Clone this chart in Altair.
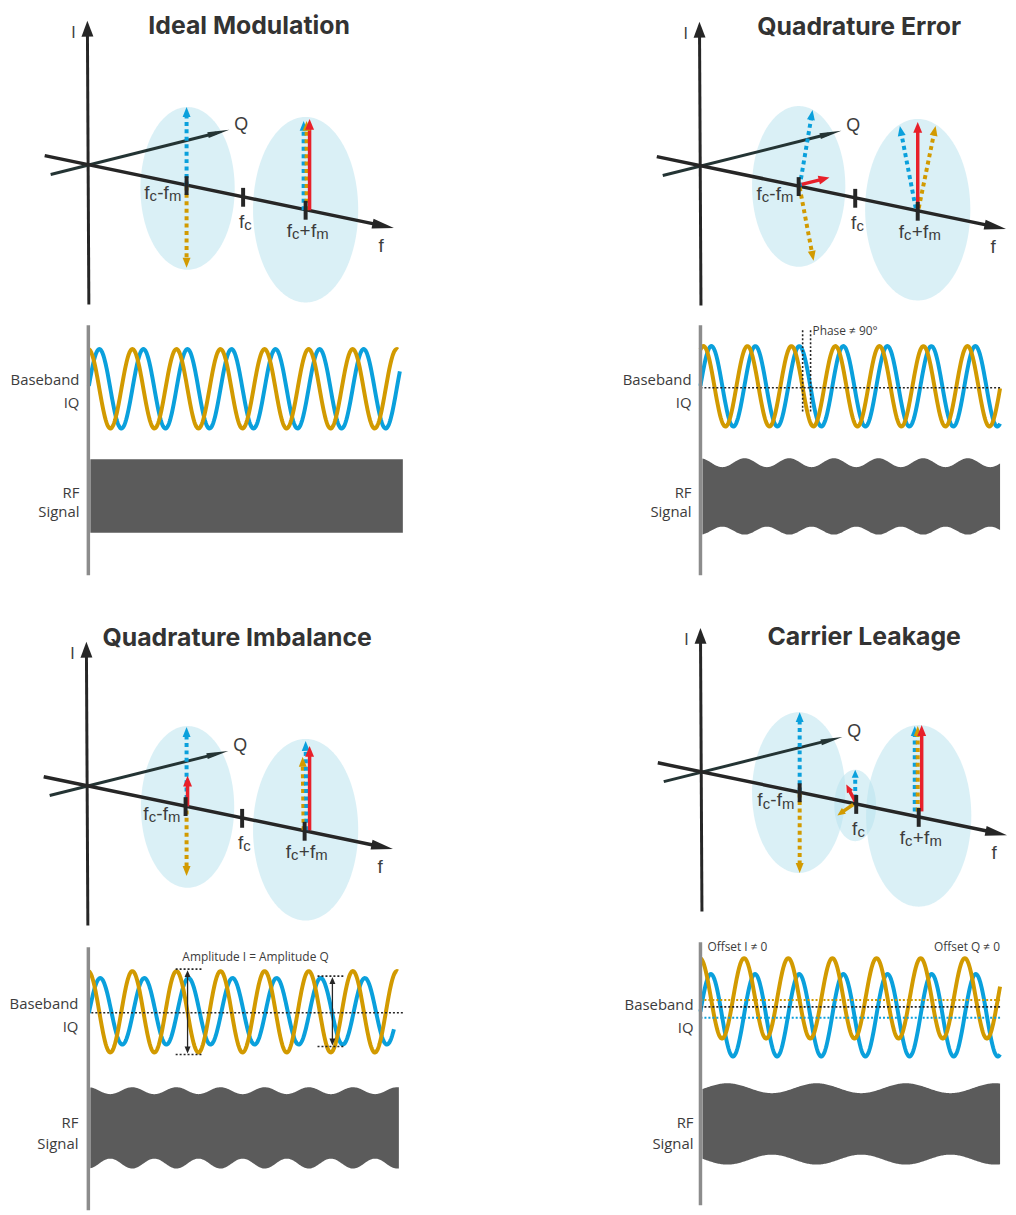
import math
import numpy as np
import pandas as pd
import altair as alt

# ------------------------------------------------------------------ data
PAL_NAMES = ["blue", "gold", "red", "ink", "slate", "bar", "rf", "ell", "text", "title"]
PAL_COLORS = ["#0aa0dc", "#d29a00", "#e8202a", "#262626", "#243434",
              "#8c8c8c", "#5b5b5b", "#b5e1ed", "#3c3c3c", "#333333"]

TITLES = ["Ideal Modulation", "Quadrature Error", "Quadrature Imbalance", "Carrier Leakage"]
TITLE_X = [251, 866, 239, 871]
TITLE_Y = [29, 30, 646.5, 645]

# diagram origins (crossing of the I, Q and f axes)
ORIGIN_X = [88, 705, 87, 706]
ORIGIN_Y = [161, 162, 787, 773]

# axis geometry relative to the origin
I_AXIS = [(1.5, 141), (0, -145)]
Q_AXIS = [(-37, 10), (143, -35)]
F_AXIS = [(-43, -9), (309, 64)]
TICK_DX = [100, 157, 220]
AXIS_LETTERS = ["I", "Q", "f"]
AXIS_LETTER_DX = [-14, 155, 296]
AXIS_LETTER_DY = [-128, -35, 88]

# tick labels f_c - f_m, f_c, f_c + f_m  (pieces relative to the tick)
TICK_LABEL_TEXT = [["f", "c", "-", "f", "m"], ["f", "c"], ["f", "c", "+", "f", "m"]]
TICK_LABEL_ROLE = [["main", "sub", "main", "main", "sub"], ["main", "sub"],
                   ["main", "sub", "main", "main", "sub"]]
TICK_LABEL_DX = [[-40, -33.5, -26.5, -20.5, -11.5], [-1.5, 5], [-16.5, -10, -0.5, 8, 17]]
TICK_LABEL_DY = [[14, 16.5, 14, 14, 16.5], [31, 33.5], [27, 29.5, 27, 27, 29.5]]

# light blue ellipses
ELL_CX = [189, 308, 805, 925, 189, 308, 805, 862, 926]
ELL_CY = [185, 206.5, 183, 206.5, 808.5, 831.5, 794, 807, 817.5]
ELL_RX = [47.5, 53, 47, 53, 47, 53, 47, 21, 53]
ELL_RY = [82, 93.5, 81, 91.5, 81.5, 91.5, 81, 36, 91.5]

# phasor arrows: start, tip, series, dashed?
ARR_X1 = [188, 188, 306, 309, 312,
          806, 806, 808, 923, 926, 925,
          188, 188, 189, 306, 309, 312,
          806, 806, 862, 862, 860, 922, 925, 929]
ARR_Y1 = [182, 183, 207, 207, 207,
          183, 184, 181, 205, 205, 205,
          808, 812, 808, 832, 832, 832,
          793, 795, 800, 803, 806, 813, 813, 813]
ARR_X2 = [188, 188, 306, 309, 312,
          819, 820, 836, 907, 943, 925,
          188, 188, 189, 305, 308, 312,
          806, 806, 862, 853, 844, 922, 925, 929]
ARR_Y2 = [103, 265, 117, 117, 115,
          106, 258, 174, 122, 122, 118,
          728, 878, 777, 758, 742, 747,
          713, 875, 771, 786, 817, 727, 727, 726]
ARR_SERIES = ["blue", "gold", "blue", "gold", "red",
              "blue", "gold", "red", "blue", "gold", "red",
              "blue", "gold", "red", "gold", "blue", "red",
              "blue", "gold", "blue", "red", "gold", "blue", "gold", "red"]
ARR_DASHED = [1, 1, 1, 1, 0,
              1, 1, 0, 1, 1, 0,
              1, 1, 0, 1, 1, 0,
              1, 1, 1, 0, 0, 1, 1, 0]
ARR_SMALL = [0] * 19 + [1, 1, 1] + [0] * 3

# baseband I/Q waves
WAVE_SERIES = ["blue", "gold", "blue", "gold", "blue", "gold", "blue", "gold"]
WAVE_X0 = [89.5, 89.5, 706, 706, 89.5, 89.5, 706, 706]
WAVE_X1 = [403, 401, 1008, 1008, 397, 401, 1008, 1008]
WAVE_MID = [387, 387, 384.5, 384.5, 1014.5, 1015, 1018.5, 1001.5]
WAVE_AMP = [40, 40, 40.5, 40.5, 33.5, 41, 41.5, 40.5]
WAVE_PERIOD = [44.4, 44.4, 44.35, 44.35, 44.45, 44.45, 44.5, 44.5]
WAVE_PEAK = [100.1, 89, 717, 709, 101, 88.9, 716.5, 705.5]

# RF signal bands
RF_X0 = [91, 708, 91, 708]
RF_X1 = [406, 1008, 402, 1008]
RF_TOP = [458, 461.5, 1094.5, 1092]
RF_TOP_AMP = [0, 4.5, 3.5, 5]
RF_BOT = [532, 530, 1168, 1164]
RF_BOT_AMP = [0, 4, 5, 5]
RF_PERIOD = [45, 45, 44.5, 90]
RF_PINCH = [0, 728, 155.5, 778]

# grey time axes
BAR_X = [89, 706, 89, 706]
BAR_Y0 = [323, 323, 950, 945]
BAR_Y1 = [575, 575, 1215, 1210]

# side labels
SIDE_TEXT = ["Baseband", "IQ", "RF", "Signal"] * 4
SIDE_X = [80] * 4 + [697] * 4 + [79] * 4 + [699] * 4
SIDE_Y = [382.7, 406, 497, 516.7, 382.7, 406, 497, 516.7,
          1011.7, 1035, 1131.7, 1153, 1012.7, 1036, 1132, 1153]

# dotted guide lines
GUIDE_SERIES = ["ink"] * 9 + ["gold", "blue"]
GUIDE_X0 = [706, 809, 817, 92, 177, 177, 320, 320, 706, 706, 706]
GUIDE_Y0 = [386, 328, 328, 1016, 972, 1058, 979, 1050, 1010, 1003, 1021]
GUIDE_X1 = [1008, 809, 817, 407, 205, 205, 348, 348, 1008, 1008, 1008]
GUIDE_Y1 = [386, 412, 412, 1016, 972, 1058, 979, 1050, 1010, 1003, 1021]

# amplitude dimension arrows
DIM_X = [189, 335]
DIM_Y0 = [973, 980]
DIM_Y1 = [1057, 1049]

# annotations
NOTE_TEXT = ["Phase \u2260 90\u00b0", "Amplitude I = Amplitude Q", "Offset I \u2260 0", "Offset Q \u2260 0"]
NOTE_X = [819, 257.5, 713, 1008]
NOTE_Y = [333, 963.5, 954, 954]
NOTE_ALIGN = ["left", "center", "left", "right"]

# ------------------------------------------------------------------ build tables
rules_solid, rules_dash, rules_dot = [], [], []
heads = []


def head_path(L, W):
    w = W / L
    return f"M0,-1L{w:.3f},1L{-w:.3f},1Z"


def arrow(x1, y1, x2, y2, col, L, W, w, dashed, solid_list, dash_list):
    dx, dy = x2 - x1, y2 - y1
    n = math.hypot(dx, dy)
    ux, uy = dx / n, dy / n
    back = 0.9 if dashed else 0.6
    row = dict(x=x1, y=y1, x2=x2 - ux * L * back, y2=y2 - uy * L * back, col=col, w=w)
    (dash_list if dashed else solid_list).append(row)
    heads.append(dict(x=x2 - ux * L / 2, y=y2 - uy * L / 2, col=col, s=L * L,
                      a=math.degrees(math.atan2(ux, -uy)) % 360, p=head_path(L, W)))


f_slope = (F_AXIS[1][1] - F_AXIS[0][1]) / (F_AXIS[1][0] - F_AXIS[0][0])


def f_axis_y(dx):
    return F_AXIS[0][1] + (dx - F_AXIS[0][0]) * f_slope


axis_text = []
tick_rows = []
for ox, oy in zip(ORIGIN_X, ORIGIN_Y):
    arrow(ox + I_AXIS[0][0], oy + I_AXIS[0][1], ox + I_AXIS[1][0], oy + I_AXIS[1][1],
          "ink", 16, 12, 3, 0, rules_solid, rules_dash)
    arrow(ox + Q_AXIS[0][0], oy + Q_AXIS[0][1], ox + Q_AXIS[1][0], oy + Q_AXIS[1][1],
          "slate", 22, 6, 3, 0, rules_solid, rules_dash)
    arrow(ox + F_AXIS[0][0], oy + F_AXIS[0][1], ox + F_AXIS[1][0], oy + F_AXIS[1][1],
          "ink", 22, 10, 3.5, 0, rules_solid, rules_dash)
    for t, dx, dy in zip(AXIS_LETTERS, AXIS_LETTER_DX, AXIS_LETTER_DY):
        axis_text.append(dict(x=ox + dx, y=oy + dy, t=t, col="text",
                              s={"I": 16, "Q": 18, "f": 19}[t]))
    for k, tdx in enumerate(TICK_DX):
        tx = ox + tdx
        ty = oy + f_axis_y(tdx)
        tick_rows.append(dict(x=tx, y=ty - 9, x2=tx, y2=ty + 10, col="ink", w=4))
        for t, role, ldx, ldy in zip(TICK_LABEL_TEXT[k], TICK_LABEL_ROLE[k],
                                     TICK_LABEL_DX[k], TICK_LABEL_DY[k]):
            axis_text.append(dict(x=tx + ldx, y=ty + ldy, t=t, col="text",
                                  s=19 if role == "main" else 15))

arrow_solid, arrow_dash = [], []
for x1, y1, x2, y2, c, d, sm in zip(ARR_X1, ARR_Y1, ARR_X2, ARR_Y2, ARR_SERIES, ARR_DASHED, ARR_SMALL):
    L, W = (8, 7) if sm else ((11, 9) if not d else (10, 8))
    arrow(x1, y1, x2, y2, c, L, W, 4 if d else 3.5, d, arrow_solid, arrow_dash)

for x, y0, y1 in zip(DIM_X, DIM_Y0, DIM_Y1):
    ym = (y0 + y1) / 2
    arrow(x, ym, x, y0, "ink", 7, 6, 1.3, 0, rules_solid, rules_dash)
    arrow(x, ym, x, y1, "ink", 7, 6, 1.3, 0, rules_solid, rules_dash)

for x0, y0, x1, y1, c in zip(GUIDE_X0, GUIDE_Y0, GUIDE_X1, GUIDE_Y1, GUIDE_SERIES):
    rules_dot.append(dict(x=x0, y=y0, x2=x1, y2=y1, col=c, w=1.6 if c == "ink" else 2))

bars = [dict(x=x, y=a, x2=x, y2=b, col="bar", w=3.5) for x, a, b in zip(BAR_X, BAR_Y0, BAR_Y1)]

# ellipses as vertical areas
ell_rows = []
tt = np.linspace(0, math.pi, 121)
for i, (cx, cy, rx, ry) in enumerate(zip(ELL_CX, ELL_CY, ELL_RX, ELL_RY)):
    for t in tt:
        ell_rows.append(dict(id=i, x=cx - rx * math.cos(t), y=cy - ry * math.sin(t),
                             y2=cy + ry * math.sin(t), col="ell"))

# waves
wave_rows = {"blue": [], "gold": []}
for i, (c, x0, x1, m, a, p, pk) in enumerate(zip(WAVE_SERIES, WAVE_X0, WAVE_X1, WAVE_MID,
                                                  WAVE_AMP, WAVE_PERIOD, WAVE_PEAK)):
    xs = np.arange(x0, x1 + 0.01, 0.5)
    for j, x in enumerate(xs):
        wave_rows[c].append(dict(id=i, i=j, x=x, y=m - a * math.cos(2 * math.pi * (x - pk) / p), col=c))

# RF bands
rf_rows = []
for i, (x0, x1, tp, ta, bt, ba, p, pin) in enumerate(zip(RF_X0, RF_X1, RF_TOP, RF_TOP_AMP, RF_BOT,
                                                          RF_BOT_AMP, RF_PERIOD, RF_PINCH)):
    for x in np.arange(x0, x1 + 0.01, 1.0):
        cph = math.cos(2 * math.pi * (x - pin) / p)
        rf_rows.append(dict(id=i, x=x, y=tp + ta * cph, y2=bt - ba * cph, col="rf"))

titles = [dict(x=x, y=y, t=t, col="title") for t, x, y in zip(TITLES, TITLE_X, TITLE_Y)]
sides = [dict(x=x, y=y, t=t, col="text") for t, x, y in zip(SIDE_TEXT, SIDE_X, SIDE_Y)]
notes = [dict(x=x, y=y, t=t, col="text", al=a) for t, x, y, a in zip(NOTE_TEXT, NOTE_X, NOTE_Y, NOTE_ALIGN)]

# ------------------------------------------------------------------ chart
XS = alt.Scale(domain=[8, 1008], nice=False, zero=False)
YS = alt.Scale(domain=[8, 1207], reverse=True, nice=False, zero=False)
COLOR = alt.Color("col:N", scale=alt.Scale(domain=PAL_NAMES, range=PAL_COLORS), legend=None)


def X():
    return alt.X("x:Q", scale=XS, axis=None)


def Y():
    return alt.Y("y:Q", scale=YS, axis=None, stack=None)


def rule_layer(rows, **kw):
    return alt.Chart(pd.DataFrame(rows)).mark_rule(**kw).encode(
        x=X(), y=Y(), x2=alt.X2("x2:Q"), y2=alt.Y2("y2:Q"), color=COLOR,
        strokeWidth=alt.StrokeWidth("w:Q", scale=None))


def head_layer(rows):
    return alt.Chart(pd.DataFrame(rows)).mark_point(filled=True, opacity=1, strokeWidth=0).encode(
        x=X(), y=Y(), color=COLOR, size=alt.Size("s:Q", scale=None),
        angle=alt.Angle("a:Q", scale=None), shape=alt.Shape("p:N", scale=None))


def text_layer(rows, font, size=None, **kw):
    enc = dict(x=X(), y=Y(), text="t:N", color=COLOR)
    if size is None:
        enc["size"] = alt.Size("s:Q", scale=None)
    else:
        kw["fontSize"] = size
    return alt.Chart(pd.DataFrame(rows)).mark_text(font=font, baseline="alphabetic", **kw).encode(**enc)


layers = [
    alt.Chart(pd.DataFrame(ell_rows)).mark_area(orient="vertical", opacity=0.5).encode(
        x=X(), y=Y(), y2=alt.Y2("y2:Q"), color=COLOR, detail="id:N"),
    alt.Chart(pd.DataFrame(rf_rows)).mark_area(orient="vertical").encode(
        x=X(), y=Y(), y2=alt.Y2("y2:Q"), color=COLOR, detail="id:N"),
    alt.Chart(pd.DataFrame(wave_rows["blue"])).mark_line(strokeWidth=4, strokeCap="butt").encode(
        x=X(), y=Y(), color=COLOR, detail="id:N", order="i:Q"),
    alt.Chart(pd.DataFrame(wave_rows["gold"])).mark_line(strokeWidth=4, strokeCap="butt").encode(
        x=X(), y=Y(), color=COLOR, detail="id:N", order="i:Q"),
    rule_layer(rules_dot, strokeDash=[2, 2]),
    rule_layer(bars),
    rule_layer(rules_solid),
    rule_layer(arrow_dash, strokeDash=[4, 3.5]),
    rule_layer(arrow_solid),
    head_layer(heads),
    rule_layer(tick_rows),
    text_layer(axis_text, "Liberation Sans", align="center"),
    text_layer(titles, "Inter", size=25, align="center", fontWeight="bold"),
    text_layer(sides, "Open Sans", size=15, align="right"),
]
for al in ["left", "center", "right"]:
    layers.append(text_layer([n for n in notes if n["al"] == al], "Open Sans", size=12, align=al))

chart = alt.layer(*layers).properties(
    width=1000, height=1199, padding=0, background="white"
).configure_view(stroke=None)

chart.save("out.html", embed_options={"renderer": "svg", "actions": False})
